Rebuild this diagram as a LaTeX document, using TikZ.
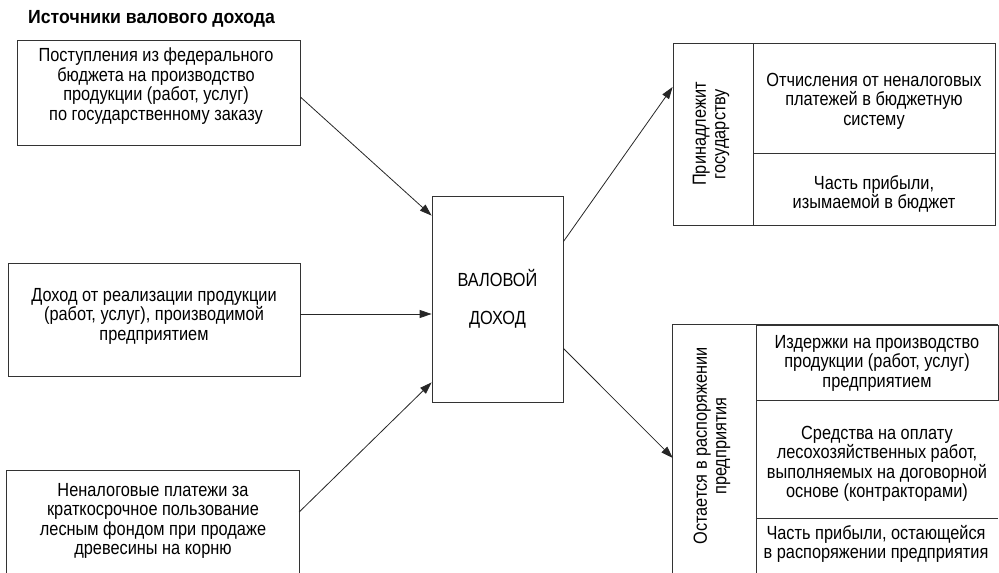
\documentclass[tikz,border=0pt]{standalone}
\usepackage{fontspec}
\setmainfont{Liberation Sans}[FakeStretch=0.86]
\newfontfamily\titlefont{Liberation Sans}[FakeStretch=0.93]
\usetikzlibrary{arrows.meta}
\begin{document}
\begin{tikzpicture}[x=1pt,y=-1pt,
  line/.style={draw=black!80, line width=0.8pt},
  box/.style={line, rectangle, inner sep=0pt},
  open/.style={rectangle, inner sep=0pt},
  txt/.style={align=center, inner sep=0pt, font=\fontsize{19}{19.5}\selectfont},
  arr/.style={draw=black!85, line width=0.8pt, -{Triangle[length=12pt,width=8pt]}}]
\useasboundingbox (0,0) rectangle (999,573);

% title
\node[anchor=west, inner sep=0pt, font=\titlefont\fontsize{19}{19.5}\selectfont\bfseries] (title) at (28,19) {Источники валового дохода};

% source boxes
\node[box, minimum width=283pt, minimum height=105pt] (b1) at (158.5,92.5) {};
\node[txt] (t1) at (156,86) {Поступления из федерального\\бюджета на производство\\продукции (работ, услуг)\\по государственному заказу};

\node[box, minimum width=292pt, minimum height=113pt] (b2) at (154,319.5) {};
\node[txt] (t2) at (154,316) {Доход от реализации продукции\\(работ, услуг), производимой\\предприятием};

\node[open, minimum width=292pt, minimum height=102pt] (b3) at (153,522) {};
\draw[line] (b3.south west) |- (b3.north east) -- (b3.south east);
\node[txt] (t3) at (153,521) {Неналоговые платежи за\\краткосрочное пользование\\лесным фондом при продаже\\древесины на корню};

% center
\node[box, minimum width=131pt, minimum height=206pt] (c) at (497.5,299) {};
\node[txt, font=\fontsize{19}{38}\selectfont] (ct) at (497.5,299) {ВАЛОВОЙ\\ДОХОД};

% upper right group
\node[box, minimum width=322pt, minimum height=182pt] (g) at (834,134) {};
\node[box, minimum width=242pt, minimum height=110pt] (g1) at (874,98) {};
\node[box, minimum width=242pt, minimum height=72pt] (g2) at (874,189) {};
\node[txt, rotate=90] (gv) at (711,134) {Принадлежит\\государству};
\node[txt] (g1t) at (874,101) {Отчисления от неналоговых\\платежей в бюджетную\\систему};
\node[txt] (g2t) at (874,194) {Часть прибыли,\\изымаемой в бюджет};

% lower right group
\node[open, minimum width=325pt, minimum height=248pt] (r) at (835.5,449) {};
\node[open, minimum width=83pt, minimum height=248pt] (rc) at (714.5,449) {};
\draw[line] (rc.south west) |- (r.north east);
\draw[line] (rc.north east) -- (rc.south east);
\node[box, minimum width=242pt, minimum height=75pt] (r1) at (877,362.5) {};
\node[open, minimum width=242pt, minimum height=119pt] (r2) at (877,459.5) {};
\node[open, minimum width=242pt, minimum height=54pt] (r3) at (877,546) {};
\draw[line] (r3.north west) -- (r3.north east);
\node[txt, rotate=90] (rv) at (712,446) {Остается в распоряжении\\предприятия};
\node[txt] (r1t) at (877,363) {Издержки на производство\\продукции (работ, услуг)\\предприятием};
\node[txt] (r2t) at (877,464) {Средства на оплату\\лесохозяйственных работ,\\выполняемых на договорной\\основе (контракторами)};
\node[txt] (r3t) at (876,544) {Часть прибыли, остающейся\\в распоряжении предприятия};

% arrows
\draw[arr] ([yshift=-4.5pt]b1.east) -- ([yshift=-20pt]c.north west);
\draw[arr] ([yshift=5.5pt]b2.east) -- ([yshift=5.5pt]b2.east -| c.west);
\draw[arr] ([yshift=10pt]b3.east) -- ([yshift=20pt]c.south west);
\draw[arr] ([yshift=-46pt]c.north east) -- ([yshift=47pt]g.west);
\draw[arr] ([yshift=54pt]c.south east) -- ([yshift=-9pt]r.west);
\end{tikzpicture}
\end{document}
